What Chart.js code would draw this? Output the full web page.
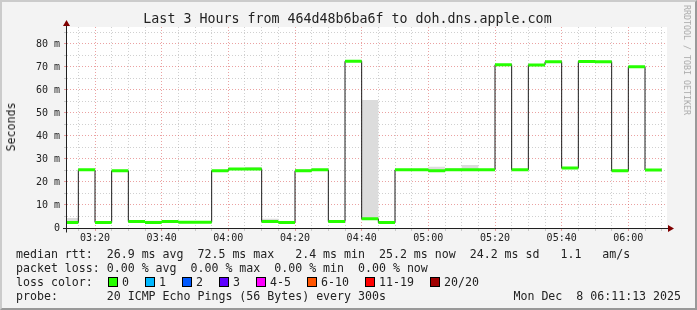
<!DOCTYPE html>
<html>
<head>
<meta charset="utf-8">
<title>Last 3 Hours from 464d48b6ba6f to doh.dns.apple.com</title>
<script src="https://cdn.jsdelivr.net/npm/chart.js@4/dist/chart.umd.min.js"></script>
<style>
    html, body { margin: 0; padding: 0; background: #f3f3f3; }
    #wrap { position: relative; width: 697px; height: 310px; overflow: hidden; background: #f3f3f3; }
    #frame {
        position: absolute; left: 0; top: 0; width: 697px; height: 310px; box-sizing: border-box;
        border-top: 2px solid #cbcbcb; border-left: 2px solid #cbcbcb;
        border-right: 2px solid #999; border-bottom: 2px solid #999; pointer-events: none;
    }
    canvas { position: absolute; left: 0; top: 0; }
    .txt { position: absolute; font-family: "DejaVu Sans Mono", monospace; color: #222; white-space: pre; }
    #title { left: -1px; top: 11px; width: 697px; text-align: center; font-size: 13.3px; line-height: 16px; }
    #ylabel { left: 11px; top: 127px; font-size: 11.6px; line-height: 14px; transform: translate(-50%, -50%) rotate(-90deg); }
    #watermark { left: 687px; top: 60px; font-size: 8.3px; line-height: 10px; color: #aaa; transform: translate(-50%, -50%) rotate(90deg); }
    .lg { left: 16px; font-size: 11.6px; line-height: 14px; }
    .box { position: absolute; width: 8px; height: 8px; border: 1px solid #000; }
</style>
</head>
<body>
<div id="wrap">
    <canvas id="rtt-chart" width="697" height="310"></canvas>
    <div class="txt" id="title">Last 3 Hours from 464d48b6ba6f to doh.dns.apple.com</div>
    <div class="txt" id="ylabel">Seconds</div>
    <div class="txt" id="watermark">RRDTOOL / TOBI OETIKER</div>
    <div class="txt lg" id="stats-rtt" style="top:247px"></div>
    <div class="txt lg" id="stats-loss" style="top:261px"></div>
    <div class="txt lg" style="top:275px">loss color:</div>
    <div id="loss-colors"></div>
    <div class="txt lg" id="probe" style="top:289px"></div>
    <div class="txt lg" id="stamp" style="top:289px; left:auto; right:16px"></div>
    <div id="frame"></div>
</div>
<script>
// 5 minute bins (start time of each bin)
const binStarts = ['03:10', '03:15', '03:20', '03:25', '03:30', '03:35', '03:40', '03:45', '03:50', '03:55',
    '04:00', '04:05', '04:10', '04:15', '04:20', '04:25', '04:30', '04:35', '04:40', '04:45',
    '04:50', '04:55', '05:00', '05:05', '05:10', '05:15', '05:20', '05:25', '05:30', '05:35',
    '05:40', '05:45', '05:50', '05:55', '06:00', '06:05'];

// median rtt in ms per bin
const medianRtt = [2.4, 25.3, 2.4, 24.9, 2.8, 2.4, 2.8, 2.5, 2.5, 24.9,
    25.7, 25.7, 2.8, 2.4, 24.9, 25.3, 2.8, 72.5, 4.0, 2.4,
    25.3, 25.3, 24.9, 25.3, 25.3, 25.3, 71.0, 25.3, 70.9, 72.3,
    26.1, 72.4, 72.3, 24.9, 70.1, 25.2];

// top of the grey smoke per bin in ms
const smokeTop = [4.3, 25.3, 2.4, 24.9, 2.8, 3.1, 2.8, 2.5, 2.5, 24.9,
    25.7, 26.5, 4.0, 2.4, 25.6, 25.3, 2.8, 72.5, 55.7, 2.4,
    25.3, 25.3, 26.6, 26.1, 27.4, 25.3, 71.0, 25.3, 70.9, 72.3,
    26.1, 72.4, 72.3, 25.4, 70.1, 25.2];

const xTickLabels = ['03:20', '03:40', '04:00', '04:20', '04:40', '05:00', '05:20', '05:40', '06:00'];
const yTickValues = [0, 10, 20, 30, 40, 50, 60, 70, 80];
const yTickLabels = ['0', '10 m', '20 m', '30 m', '40 m', '50 m', '60 m', '70 m', '80 m'];

const lossLabels = ['0', '1', '2', '3', '4-5', '6-10', '11-19', '20/20'];
const lossColors = ['#26ff00', '#00b8ff', '#0059ff', '#5e00ff', '#ff00ff', '#ff5500', '#ff0000', '#a00000'];

const statsRtt = 'median rtt:  26.9 ms avg  72.5 ms max   2.4 ms min  25.2 ms now  24.2 ms sd   1.1   am/s';
const statsLoss = 'packet loss: 0.00 % avg  0.00 % max  0.00 % min  0.00 % now';
const probeText = 'probe:       20 ICMP Echo Pings (56 Bytes) every 300s';
const stampText = 'Mon Dec  8 06:11:13 2025';

const viewStart = '03:11:36';
const viewEnd = '06:11:36';
const binMinutes = 5;

// minutes since 03:00
function toMin(s) {
    const p = s.split(':').map(Number);
    return (p[0] - 3) * 60 + p[1] + (p[2] || 0) / 60;
}

const binX = binStarts.map(toMin);

// stepped series: one point per bin start plus the closing edge of the last bin
function stepPoints(values) {
    const pts = binX.map((x, i) => ({ x: x, y: values[i] }));
    pts.push({ x: binX[binX.length - 1] + binMinutes, y: values[values.length - 1] });
    return pts;
}

// green median bars: flat pieces only, broken between bins
const greenPts = [];
binX.forEach((x, i) => {
    greenPts.push({ x: x, y: medianRtt[i] });
    greenPts.push({ x: x + binMinutes, y: medianRtt[i] });
    greenPts.push({ x: x + binMinutes, y: null });
});

const gridMinutes = [];
for (let m = 15; m <= 190; m += 5) gridMinutes.push(m);
const gridValues = [];
for (let v = 0; v <= 85; v += 5) gridValues.push(v);

const majorGrid = 'rgba(215, 70, 70, 0.5)';
const minorGrid = 'rgba(150, 150, 150, 0.45)';

// white canvas, axes and arrows like rrdtool
const rrdFrame = {
    id: 'rrdFrame',
    beforeDraw(chart) {
        const { ctx, chartArea: a } = chart;
        ctx.save();
        ctx.fillStyle = '#ffffff';
        ctx.fillRect(a.left, a.top, a.right - a.left, a.bottom - a.top);
        ctx.restore();
    },
    afterDatasetsDraw(chart) {
        const { ctx, chartArea: a } = chart;
        const x0 = a.left - 0.5;
        const y0 = Math.round(a.bottom) + 0.5;
        ctx.save();
        ctx.strokeStyle = '#202020';
        ctx.lineWidth = 1;
        ctx.beginPath();
        ctx.moveTo(a.left - 4, y0);
        ctx.lineTo(a.right + 2, y0);
        ctx.moveTo(x0, y0 + 4);
        ctx.lineTo(x0, a.top - 1);
        ctx.stroke();
        ctx.fillStyle = '#7f0000';
        ctx.beginPath();
        ctx.moveTo(a.right + 1, y0 - 3.5);
        ctx.lineTo(a.right + 7, y0);
        ctx.lineTo(a.right + 1, y0 + 3.5);
        ctx.closePath();
        ctx.fill();
        ctx.beginPath();
        ctx.moveTo(x0 - 3.5, a.top - 1);
        ctx.lineTo(x0, a.top - 7);
        ctx.lineTo(x0 + 3.5, a.top - 1);
        ctx.closePath();
        ctx.fill();
        ctx.restore();
    }
};

const tickFont = { family: 'DejaVu Sans Mono', size: 10 };

new Chart(document.getElementById('rtt-chart'), {
    type: 'line',
    data: {
        datasets: [{
            label: 'smoke',
            data: stepPoints(smokeTop),
            stepped: 'before',
            borderWidth: 0,
            backgroundColor: '#dcdcdc',
            fill: 1,
            order: 3
        }, {
            label: 'median',
            data: stepPoints(medianRtt),
            stepped: 'before',
            borderColor: '#1c1c1c',
            borderWidth: 1,
            fill: false,
            order: 2
        }, {
            label: 'loss 0',
            data: greenPts,
            borderColor: lossColors[0],
            borderWidth: 3,
            borderCapStyle: 'butt',
            spanGaps: false,
            fill: false,
            order: 1
        }]
    },
    options: {
        responsive: false,
        animation: false,
        devicePixelRatio: 1,
        layout: { autoPadding: false, padding: { top: 27, right: 30, bottom: 62, left: 0 } },
        elements: { point: { radius: 0 }, line: { tension: 0 } },
        plugins: { legend: { display: false }, tooltip: { enabled: false }, title: { display: false } },
        scales: {
            x: {
                type: 'linear',
                min: toMin(viewStart),
                max: toMin(viewEnd),
                afterBuildTicks: s => { s.ticks = gridMinutes.map(v => ({ value: v })); },
                afterFit: s => { s.height = 20; },
                ticks: {
                    autoSkip: false, maxRotation: 0, padding: 1, color: '#222', font: tickFont,
                    callback: v => xTickLabels.find(l => toMin(l) === v) || ''
                },
                grid: {
                    color: c => (c.tick && c.tick.value % 20 === 0) ? majorGrid : minorGrid,
                    tickColor: c => (c.tick && c.tick.value % 20 === 0) ? majorGrid : minorGrid,
                    tickLength: 3,
                    lineWidth: 1
                },
                border: { display: false, dash: [1, 2] }
            },
            y: {
                min: 0,
                max: 87.39,
                afterBuildTicks: s => { s.ticks = gridValues.map(v => ({ value: v })); },
                afterFit: s => { s.width = 67; },
                ticks: {
                    autoSkip: false, padding: 4, color: '#222', font: tickFont,
                    callback: v => {
                        const i = yTickValues.indexOf(v);
                        return i < 0 ? '' : yTickLabels[i];
                    }
                },
                grid: {
                    color: c => (c.tick && c.tick.value % 10 === 0) ? majorGrid : minorGrid,
                    tickColor: c => (c.tick && c.tick.value % 10 === 0) ? majorGrid : minorGrid,
                    tickLength: 3,
                    lineWidth: 1
                },
                border: { display: false, dash: [1, 2] }
            }
        }
    },
    plugins: [rrdFrame]
});

// legend text under the graph
document.getElementById('stats-rtt').textContent = statsRtt;
document.getElementById('stats-loss').textContent = statsLoss;
document.getElementById('probe').textContent = probeText;
document.getElementById('stamp').textContent = stampText;

const lossBox = document.getElementById('loss-colors');
let left = 108;
lossLabels.forEach((lbl, i) => {
    const box = document.createElement('div');
    box.className = 'box';
    box.style.left = left + 'px';
    box.style.top = '277px';
    box.style.background = lossColors[i];
    lossBox.appendChild(box);

    const t = document.createElement('div');
    t.className = 'txt lg';
    t.style.left = (left + 14) + 'px';
    t.style.top = '275px';
    t.textContent = lbl;
    lossBox.appendChild(t);

    left += 14 + lbl.length * 7 + 16;
});
</script>
</body>
</html>
